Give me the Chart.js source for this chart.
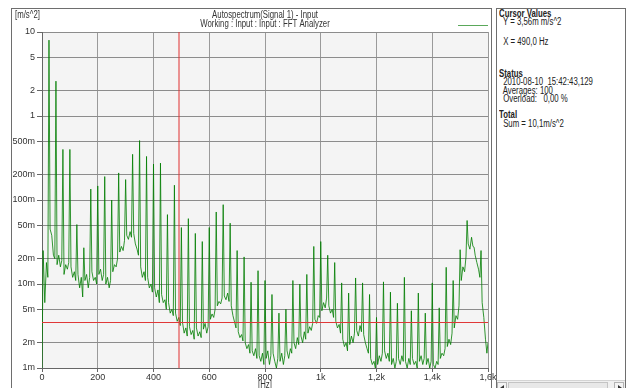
<!DOCTYPE html>
<html>
<head>
<meta charset="utf-8">
<script src="https://cdn.jsdelivr.net/npm/chart.js@4.4.0/dist/chart.umd.min.js"></script>
<style>
body { margin: 0; background: #fff; }
#wrap { position: relative; width: 628px; height: 388px; overflow: hidden; font-family: "Liberation Sans", Arial, sans-serif; color: #222; }
#chart { position: absolute; left: 0; top: 0; }
#frame { position: absolute; left: 11px; top: 8px; width: 481px; height: 400px; box-sizing: border-box;
         border-left: 1px solid #6e6e6e; border-top: 1px solid #6e6e6e; border-right: 1px solid #6e6e6e; pointer-events: none; }
#panel { position: absolute; left: 496px; top: 8px; width: 130px; height: 400px; box-sizing: border-box; border: 1px solid #6e6e6e; background: #fff; }
#panel .t { position: absolute; font-size: 10px; line-height: 12px; white-space: pre; transform: scaleX(0.78); transform-origin: 0 50%; }
#panel .b { font-weight: bold; }
#scroll { position: absolute; left: 0px; top: 371px; width: 128px; height: 12px; background: #f0f0f0; border-top: 1px solid #d4d4d4; }
#scroll .btn { position: absolute; top: 1px; width: 10px; height: 10px; background: #f4f4f4; border: 1px solid #b4b4b4; box-sizing: border-box; }
#scroll .thumb { position: absolute; top: 1px; left: 11px; width: 100px; height: 10px; background: #e8e8e8; border: 1px solid #c4c4c4; box-sizing: border-box; }
.tri { position: absolute; top: 2px; width: 0; height: 0; border-top: 3px solid transparent; border-bottom: 3px solid transparent; }
</style>
</head>
<body>
<div id="wrap">
  <canvas id="chart" width="628" height="388"></canvas>
  <div id="frame"></div>
  <div id="panel">
    <div class="t b" style="left:2px; top:-1px">Cursor Values</div>
    <div class="t" style="left:4px; top:7px"> Y = 3,56m m/s^2</div>
    <div class="t" style="left:4px; top:27px"> X = 490,0 Hz</div>
    <div class="t b" style="left:2px; top:59px">Status</div>
    <div class="t" style="left:4px; top:67px"> 2010-08-10  15:42:43,129</div>
    <div class="t" style="left:4px; top:76px"> Averages: 100</div>
    <div class="t" style="left:4px; top:84px"> Overload:   0,00 %</div>
    <div class="t b" style="left:2px; top:100px">Total</div>
    <div class="t" style="left:4px; top:109px"> Sum = 10,1m/s^2</div>
    <div id="scroll">
      <div class="btn" style="left:0px"><div class="tri" style="left:2px; border-right:4px solid #333"></div></div>
      <div class="thumb"></div>
      <div class="btn" style="left:117px"><div class="tri" style="left:3px; border-left:4px solid #333"></div></div>
    </div>
  </div>
</div>
<script>
// axis
var xTickValues = [0, 200, 400, 600, 800, 1000, 1200, 1400, 1600];
var xTickLabels = ["0", "200", "400", "600", "800", "1k", "1,2k", "1,4k", "1,6k"];
var yTickValues = [0.001, 0.002, 0.005, 0.01, 0.02, 0.05, 0.1, 0.2, 0.5, 1, 2, 5, 10];
var yTickLabels = ["1m", "2m", "5m", "10m", "20m", "50m", "100m", "200m", "500m", "1", "2", "5", "10"];

// spectrum: harmonic lines every 25 Hz (25 .. 1575 Hz), m/s^2
var harmonicStep = 25;
var peakLevels = [
    8.0, 2.6, 0.40, 0.40, 0.051, 0.027, 0.135, 0.147,
    0.19, 0.10, 0.21, 0.175, 0.35, 0.51, 0.33, 0.268,
    0.275, 0.067, 0.15, 0.047, 0.06, 0.04, 0.032, 0.047,
    0.072, 0.088, 0.053, 0.025, 0.021, 0.0105, 0.0144, 0.011,
    0.0075, 0.0045, 0.005, 0.011, 0.010, 0.013, 0.028, 0.032,
    0.022, 0.018, 0.0103, 0.0078, 0.0118, 0.0103, 0.0075, 0.004,
    0.0106, 0.008, 0.0059, 0.012, 0.0048, 0.0078, 0.0045, 0.0103,
    0.0052, 0.0158, 0.011, 0.0256, 0.057, 0.0274, 0.025
];

// noise floor between the lines, 4 readings per 25 Hz gap (one row = 100 Hz)
var floorOffsets = [4, 10, 16, 21];
var floorLevels = [
    0.025, 0.006, 0.018, 0.012, 0.045, 0.038, 0.022, 0.02, 0.017, 0.022, 0.016, 0.019, 0.013, 0.017, 0.015, 0.018,
    0.016, 0.012, 0.014, 0.011, 0.013, 0.009, 0.012, 0.007, 0.011, 0.013, 0.009, 0.012, 0.014, 0.011, 0.012, 0.010,
    0.013, 0.015, 0.011, 0.013, 0.010, 0.012, 0.009, 0.011, 0.014, 0.017, 0.016, 0.020, 0.024, 0.028, 0.025, 0.033,
    0.038, 0.034, 0.042, 0.036, 0.040, 0.030, 0.026, 0.022, 0.016, 0.012, 0.014, 0.011, 0.012, 0.009, 0.010, 0.008,
    0.009, 0.007, 0.0085, 0.006, 0.0075, 0.006, 0.0065, 0.005, 0.006, 0.0045, 0.005, 0.0042, 0.0045, 0.0036, 0.004, 0.0032,
    0.0035, 0.0026, 0.003, 0.0024, 0.0031, 0.0025, 0.0028, 0.0022, 0.003, 0.0024, 0.0027, 0.0023, 0.0029, 0.0034, 0.0026, 0.0031,
    0.0038, 0.0044, 0.004, 0.005, 0.0055, 0.0062, 0.0058, 0.0068, 0.0072, 0.0065, 0.0078, 0.0062, 0.0055, 0.0042, 0.0035, 0.003,
    0.0027, 0.0023, 0.0025, 0.0021, 0.002, 0.0017, 0.0019, 0.0015, 0.0016, 0.0014, 0.0017, 0.0013, 0.0014, 0.0012, 0.0015, 0.0011,
    0.0013, 0.0016, 0.0011, 0.0014, 0.0015, 0.0012, 0.001, 0.0013, 0.0012, 0.0015, 0.0011, 0.0014, 0.0016, 0.0013, 0.0017, 0.0015,
    0.002, 0.0017, 0.0023, 0.0019, 0.0024, 0.002, 0.0027, 0.0022, 0.0026, 0.0031, 0.0028, 0.0034, 0.0038, 0.0034, 0.0042, 0.004,
    0.0048, 0.006, 0.0052, 0.0068, 0.0055, 0.0045, 0.005, 0.004, 0.0036, 0.003, 0.0033, 0.0026, 0.0022, 0.0018, 0.002, 0.0016,
    0.0019, 0.0024, 0.002, 0.0026, 0.0028, 0.0024, 0.0032, 0.0027, 0.0025, 0.002, 0.0017, 0.0015, 0.0013, 0.0011, 0.0012, 0.001,
    0.0011, 0.0014, 0.0012, 0.0015, 0.0016, 0.0013, 0.0015, 0.0012, 0.0011, 0.0013, 0.001, 0.0012, 0.0013, 0.0011, 0.0014, 0.0012,
    0.0012, 0.001, 0.0013, 0.0011, 0.0013, 0.0011, 0.0012, 0.001, 0.0012, 0.0014, 0.0011, 0.0013, 0.0011, 0.0013, 0.001, 0.0012,
    0.0011, 0.001, 0.0012, 0.0011, 0.0013, 0.0015, 0.0014, 0.0017, 0.0018, 0.0022, 0.0019, 0.0026, 0.003, 0.0042, 0.0038, 0.0055,
    0.011, 0.016, 0.014, 0.021, 0.03, 0.026, 0.036, 0.028, 0.022, 0.018, 0.015, 0.012, 0.006, 0.004, 0.0022, 0.0015
];
var startLevel = 0.001;   // at 0 Hz
var endLevel = 0.002;     // at 1600 Hz

// cursor
var cursorX = 490;
var cursorY = 0.00356;

var textSqueeze = 0.78;

var points = [{ x: 0, y: startLevel }];
for (var g = 0; g < floorLevels.length / 4; g++) {
    var base = g * harmonicStep;
    if (g > 0) points.push({ x: base, y: peakLevels[g - 1] });
    for (var j = 0; j < 4; j++) {
        points.push({ x: base + floorOffsets[j], y: floorLevels[g * 4 + j] });
    }
}
points.push({ x: 1600, y: endLevel });

function drawText(ctx, txt, x, y, align) {
    ctx.save();
    ctx.font = '10px "Liberation Sans", Arial, sans-serif';
    ctx.fillStyle = '#333';
    ctx.textBaseline = 'middle';
    ctx.textAlign = align;
    ctx.translate(x, y);
    ctx.scale(textSqueeze, 1);
    ctx.fillText(txt, 0, 0);
    ctx.restore();
}

var decor = {
    id: 'decor',
    beforeDraw: function (chart) {
        var a = chart.chartArea, ctx = chart.ctx;
        ctx.save();
        ctx.fillStyle = '#f4f4f4';
        ctx.fillRect(a.left, a.top, a.right - a.left, a.bottom - a.top);
        ctx.restore();
    },
    afterDatasetsDraw: function (chart) {
        var a = chart.chartArea, ctx = chart.ctx;
        var px = Math.round(chart.scales.x.getPixelForValue(cursorX));
        var py = Math.round(chart.scales.y.getPixelForValue(cursorY)) + 0.5;
        ctx.save();
        ctx.strokeStyle = '#e03030';
        ctx.lineWidth = 1;
        // vertical cursor
        ctx.beginPath();
        ctx.moveTo(px, a.top);
        ctx.lineTo(px, a.bottom);
        ctx.stroke();
        // horizontal cursor
        ctx.strokeStyle = '#e03838';
        ctx.beginPath();
        ctx.moveTo(a.left, py);
        ctx.lineTo(a.right, py);
        ctx.stroke();
        ctx.restore();
    },
    afterDraw: function (chart) {
        var a = chart.chartArea, ctx = chart.ctx;
        var mid = (a.left + a.right) / 2;
        drawText(ctx, '[m/s^2]', 15, 15, 'left');
        drawText(ctx, 'Autospectrum(Signal 1) - Input', mid, 15, 'center');
        drawText(ctx, 'Working : Input : Input : FFT Analyzer', mid, 24, 'center');
        drawText(ctx, '[Hz]', mid, 385, 'center');
        ctx.save();
        ctx.strokeStyle = '#5aa85a';
        ctx.lineWidth = 1;
        ctx.beginPath();
        ctx.moveTo(458, 25.5);
        ctx.lineTo(488, 25.5);
        ctx.stroke();
        ctx.restore();
    }
};

var tickFont = { family: '"Liberation Sans Narrow", "Liberation Sans", Arial, sans-serif', size: 9 };

new Chart(document.getElementById('chart'), {
    type: 'line',
    data: {
        datasets: [{
            label: 'Signal 1',
            data: points,
            borderColor: 'rgba(0, 125, 0, 0.8)',
            borderWidth: 1,
            pointRadius: 0,
            tension: 0,
            fill: false
        }]
    },
    options: {
        responsive: false,
        animation: false,
        devicePixelRatio: 1,
        layout: { padding: { left: 0, top: 32, right: 140, bottom: 0 } },
        plugins: { legend: { display: false }, tooltip: { enabled: false } },
        scales: {
            x: {
                type: 'linear',
                min: 0,
                max: 1600,
                afterBuildTicks: function (s) { s.ticks = xTickValues.map(function (v) { return { value: v }; }); },
                afterFit: function (s) { s.height = 20; },
                ticks: {
                    autoSkip: false,
                    maxRotation: 0,
                    padding: 0,
                    color: '#333',
                    font: tickFont,
                    callback: function (v, i) { return xTickLabels[i]; }
                },
                grid: { color: '#9a9a9a', tickColor: '#666', tickLength: 4 },
                border: { color: '#666' }
            },
            y: {
                type: 'logarithmic',
                min: 0.001,
                max: 10,
                afterBuildTicks: function (s) { s.ticks = yTickValues.map(function (v) { return { value: v }; }); },
                afterFit: function (s) { s.width = 42; },
                ticks: {
                    autoSkip: false,
                    padding: 2,
                    color: '#333',
                    font: tickFont,
                    callback: function (v, i) { return yTickLabels[i]; }
                },
                grid: { color: '#8c8c8c', tickColor: '#666', tickLength: 5 },
                border: { color: '#666' }
            }
        }
    },
    plugins: [decor]
});
</script>
</body>
</html>
